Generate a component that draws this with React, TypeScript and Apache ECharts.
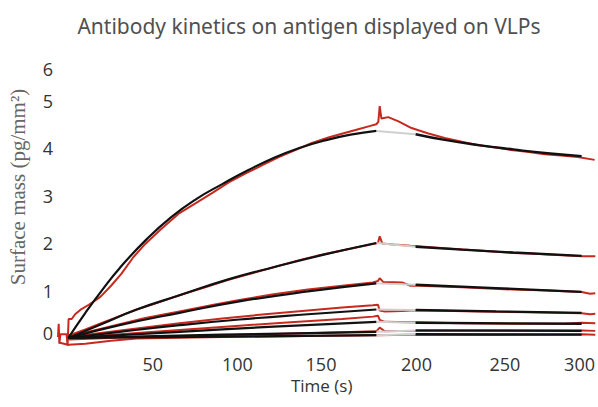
import React, { useEffect, useRef } from "react";
import * as echarts from "echarts";

// Tick label positions as drawn in the source figure (labels were placed by hand there)
const xTickValues = [49.4, 98.8, 147.7, 203.5, 255.2, 298.8];
const yTickValues = [0.1, 1, 2, 3, 4, 5, 5.66];

// Measured sensorgrams (red), [time s, surface mass pg/mm²]
const measured1 = [[-6,0.02],[-5.6,0.3],[-5.2,-0.12],[-4.6,0.08],[-1,0.08],[-0.4,-0.16],[0.2,0.4],[2,0.4],[4,0.5],[7,0.59],[12,0.7],[18.6,0.86],[25,1.1],[31,1.35],[38,1.7],[45,1.98],[53.5,2.27],[65,2.63],[75,2.85],[84,3.05],[94,3.28],[104,3.47],[114,3.65],[123,3.81],[133,3.96],[142,4.1],[152,4.22],[162,4.32],[170,4.4],[176,4.46],[180,4.5],[181.2,4.55],[182,4.88],[183,4.62],[187,4.65],[193,4.56],[200.6,4.42],[210,4.31],[220,4.21],[230,4.13],[239.5,4.06],[250,4.01],[258.7,3.96],[268,3.92],[278.5,3.87],[288,3.84],[297.7,3.81],[307.6,3.75]];
const measured2 = [[0,0.05],[10,0.18],[20,0.32],[30,0.46],[40,0.6],[52,0.74],[65,0.9],[80,1.07],[94,1.23],[108,1.37],[121,1.5],[135,1.64],[150,1.77],[165,1.88],[178,1.98],[181,2.0],[182,2.14],[183.5,1.99],[190,1.97],[200,1.94],[220,1.89],[240,1.84],[260,1.79],[270,1.78],[280,1.76],[300,1.72],[308,1.72]];
const measured3 = [[0,0.03],[15,0.16],[30,0.29],[45,0.42],[65,0.56],[85,0.7],[100,0.8],[120,0.92],[140,1.02],[160,1.1],[178,1.17],[181,1.2],[182,1.26],[184,1.18],[195,1.17],[200,1.1],[205,1.1],[230,1.07],[260,1.02],[280,1.0],[300,0.97],[305,0.93],[308,0.94]];
const measured4 = [[0,0.02],[20,0.11],[40,0.2],[65,0.31],[90,0.41],[115,0.5],[140,0.58],[160,0.64],[178,0.69],[181,0.7],[182,0.58],[185,0.56],[195,0.57],[200,0.58],[210,0.58],[240,0.56],[270,0.54],[300,0.52],[305,0.5],[308,0.51]];
const measured5 = [[0,0.0],[30,0.08],[65,0.17],[100,0.26],[130,0.33],[160,0.4],[178,0.45],[181,0.47],[182,0.38],[185,0.34],[200,0.33],[230,0.31],[260,0.3],[290,0.3],[300,0.32],[308,0.31]];
const measured6 = [[0,-0.03],[40,0.02],[90,0.06],[140,0.1],[180,0.14],[182,0.22],[185,0.14],[200,0.15],[250,0.16],[300,0.16],[308,0.15]];
const measured7 = [[-5,-0.1],[0,-0.14],[10,-0.12],[25,-0.06],[40,-0.01],[90,0.02],[140,0.04],[180,0.06],[200,0.07],[250,0.07],[300,0.08],[308,0.07]];

// Fitted association phase (black)
const assoc1 = [[0,0],[10,0.53],[20,1.02],[30,1.47],[45,2.05],[60,2.54],[75,2.93],[90,3.24],[105,3.53],[120,3.79],[135,4.0],[150,4.16],[165,4.28],[180,4.36]];
const assoc2 = [[0,0],[20,0.3],[40,0.6],[65,0.9],[94,1.24],[121,1.5],[150,1.76],[180,2.0]];
const assoc3 = [[0,0],[30,0.27],[65,0.53],[100,0.77],[140,0.98],[180,1.15]];
const assoc4 = [[0,0],[30,0.13],[65,0.27],[100,0.39],[140,0.5],[180,0.6]];
const assoc5 = [[0,0],[65,0.13],[120,0.24],[180,0.34]];
const assoc6 = [[0,0],[90,0.07],[180,0.13]];
const assoc7 = [[0,0],[90,0.03],[180,0.06]];

// Fitted dissociation phase (black)
const dissoc1 = [[203,4.29],[220,4.17],[240,4.06],[260,3.97],[280,3.89],[300,3.83]];
const dissoc2 = [[203,1.92],[230,1.86],[260,1.8],[300,1.73]];
const dissoc3 = [[203,1.12],[250,1.05],[300,0.97]];
const dissoc4 = [[203,0.59],[250,0.56],[300,0.53]];
const dissoc5 = [[203,0.32],[300,0.3]];
const dissoc6 = [[203,0.16],[300,0.15]];
const dissoc7 = [[203,0.08],[300,0.07]];

const measured = [measured1, measured2, measured3, measured4, measured5, measured6, measured7];
const assoc = [assoc1, assoc2, assoc3, assoc4, assoc5, assoc6, assoc7];
const dissoc = [dissoc1, dissoc2, dissoc3, dissoc4, dissoc5, dissoc6, dissoc7];

export default function App() {
  const ref = useRef<HTMLDivElement>(null);
  useEffect(() => {
    if (!ref.current) return;
    const chart = echarts.init(ref.current, undefined, { renderer: "svg" });
    const series: any[] = [];
    measured.forEach((d, i) => {
      series.push({
        type: "line", name: "measured" + (i + 1), data: d, showSymbol: false, symbol: "none",
        lineStyle: { color: "#c8291f", width: 2 }, z: 2,
      });
    });
    dissoc.forEach((d, i) => {
      const a = assoc[i];
      series.push({
        type: "line", name: "extrap" + (i + 1), data: [a[a.length - 1], d[0]], symbol: "none",
        lineStyle: { color: "#cfcfcf", width: 2 }, z: 3,
      });
    });
    assoc.forEach((d, i) => {
      series.push({
        type: "line", name: "fitA" + (i + 1), data: d, symbol: "none", smooth: true,
        lineStyle: { color: "#111111", width: 2.2 }, z: 4,
      });
    });
    dissoc.forEach((d, i) => {
      series.push({
        type: "line", name: "fitD" + (i + 1), data: d, symbol: "none", smooth: true,
        lineStyle: { color: "#111111", width: 2.4 }, z: 4,
      });
    });
    chart.setOption({
      animation: false,
      backgroundColor: "#ffffff",
      title: {
        text: "Antibody kinetics on antigen displayed on VLPs",
        left: 304, top: 10, textAlign: "center",
        textStyle: { fontFamily: "Noto Sans", fontSize: 21, fontWeight: "normal", color: "#505050" },
      },
      grid: { left: 58, right: 0, top: 53, bottom: 59.5, containLabel: false },
      xAxis: {
        type: "value", min: -6, max: 308,
        name: "Time (s)", nameLocation: "middle", nameGap: 27,
        nameTextStyle: { fontFamily: "Open Sans", fontSize: 17, color: "#333", padding: [0, 10, 0, 0] },
        axisLine: { show: false }, axisTick: { show: false, customValues: xTickValues },
        splitLine: { show: false },
        axisLabel: {
          customValues: xTickValues, margin: 7,
          formatter: (v: number) => String(Math.round(v / 50) * 50),
          fontFamily: "Open Sans", fontSize: 18, color: "#333",
        },
      },
      yAxis: {
        type: "value", min: -0.2, max: 6,
        axisLine: { show: false }, axisTick: { show: false, customValues: yTickValues },
        splitLine: { show: false },
        axisLabel: {
          customValues: yTickValues, margin: 5,
          formatter: (v: number) => String(Math.round(v)),
          fontFamily: "Open Sans", fontSize: 18, color: "#333",
        },
      },
      graphic: [
        {
          type: "text", x: 18, y: 187, rotation: Math.PI / 2,
          style: {
            text: "Surface mass (pg/mm²)", fill: "#666",
            font: '21px "Liberation Serif", "DejaVu Serif", serif',
            align: "center", verticalAlign: "middle",
          },
        },
      ],
      series,
    });
    return () => chart.dispose();
  }, []);
  return <div ref={ref} style={{ position: "fixed", left: 0, top: 0, width: 598, height: 407 }} />;
}
